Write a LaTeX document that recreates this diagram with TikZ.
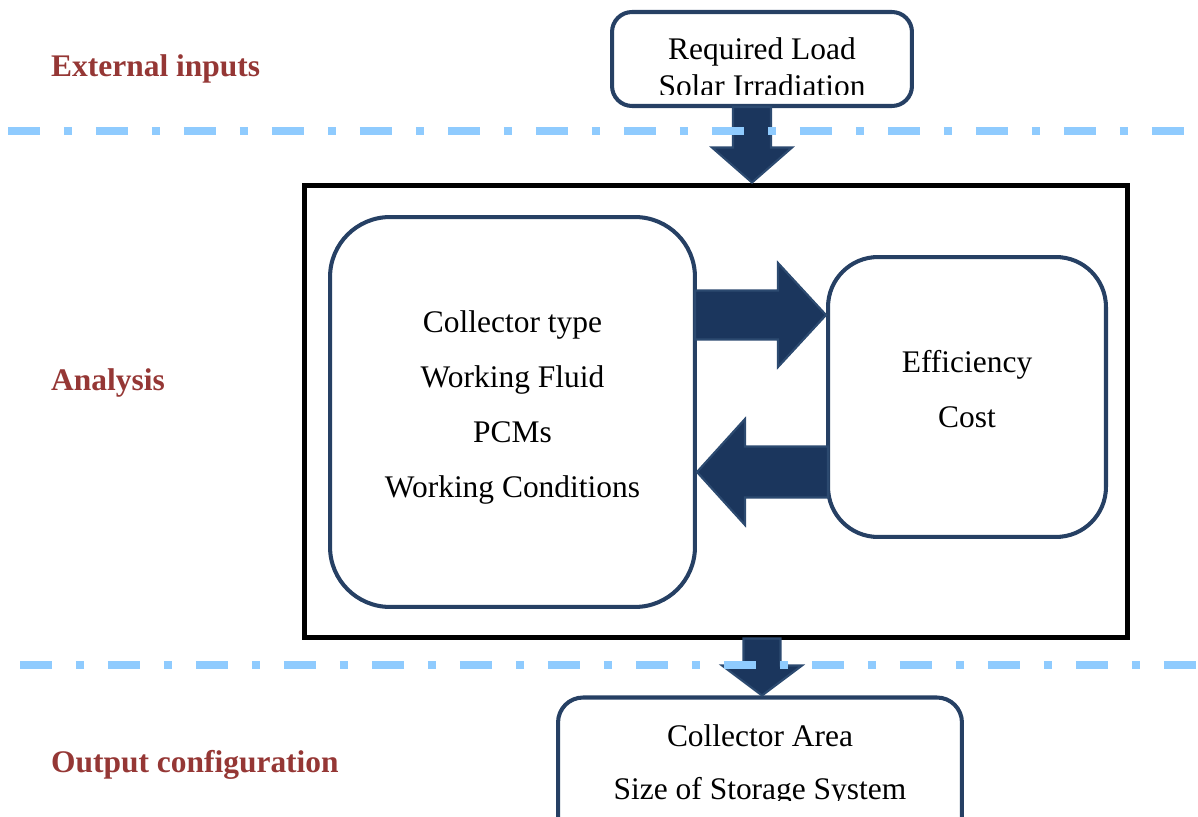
\documentclass[tikz,border=0pt]{standalone}
\usepackage{fontspec}
\setmainfont{Liberation Serif}
\usetikzlibrary{calc}
\definecolor{boxnavy}{HTML}{264064}
\definecolor{arrownavy}{HTML}{1B365D}
\definecolor{arrowedge}{HTML}{2C4A70}
\definecolor{bandblue}{HTML}{8FCBFE}
\definecolor{stagered}{HTML}{953735}

% block arrow: #1 tail, #2 tip, #3 half shaft, #4 half head, #5 head length (px)
\newcommand{\fatarrow}[5]{%
  \coordinate (fa-t) at (#1);
  \coordinate (fa-h) at ($(#2)!#5*0.02cm!(#1)$);
  \draw[bigarrow] ($(fa-t)!#3*0.02cm!90:(#2)$) -- ($(fa-h)!#3*0.02cm!90:(#2)$)
    -- ($(fa-h)!#4*0.02cm!90:(#2)$) -- (#2) -- ($(fa-h)!#4*0.02cm!-90:(#2)$)
    -- ($(fa-h)!#3*0.02cm!-90:(#2)$) -- ($(fa-t)!#3*0.02cm!-90:(#2)$) -- cycle;}

\begin{document}
\begin{tikzpicture}[x=0.02cm,y=-0.02cm,
  txt/.style={align=center,font=\fontsize{17.9}{31.3}\selectfont},
  stage/.style={anchor=west,text=stagered,font=\fontsize{17.9}{20}\selectfont\bfseries},
  roundbox/.style={draw=boxnavy,line width=2.3pt,fill=white,inner sep=0pt},
  bigarrow/.style={fill=arrownavy,draw=arrowedge,line width=1.2pt,line join=miter},
  band/.style={bandblue,line width=4.5pt,dash pattern=on 0.64cm off 0.48cm on 0.16cm off 0.48cm}]
  \path[use as bounding box,clip] (0,0) rectangle (1198,817);

  % stage labels
  \node[stage] (ext) at (45,69) {External inputs};
  \node[stage] (ana) at (45,383) {Analysis};
  \node[stage] (outl) at (45,765) {Output configuration};

  % inputs
  \node[roundbox,minimum width=6cm,minimum height=1.88cm,rounded corners=0.4cm] (load) at (762,59) {};
  \begin{scope}
    \clip (load.north west) rectangle ($(load.south east)+(0,-14)$);
    \node[txt,font=\fontsize{17.9}{21}\selectfont] (loadtxt) at ($(load.center)+(0,8)$) {Required Load\\Solar Irradiation};
  \end{scope}

  % analysis block
  \node[draw=black,line width=2.85pt,minimum width=16.48cm,minimum height=9.06cm] (frame) at (716,411.5) {};
  \node[roundbox,minimum width=7.3cm,minimum height=7.8cm,rounded corners=1.2cm] (colbox) at (512.5,412) {};
  \node[txt] (coltxt) at ($(colbox.center)+(0,-5)$) {Collector type\\Working Fluid\\PCMs\\Working Conditions};
  \node[roundbox,minimum width=5.56cm,minimum height=5.6cm,rounded corners=1cm] (perf) at (967,397) {};
  \node[txt] (perftxt) at ($(perf.center)+(0,-8)$) {Efficiency\\Cost};

  % output
  \node[roundbox,minimum width=8.08cm,minimum height=2.9cm,rounded corners=0.5cm] (out) at (760,770) {};
  \begin{scope}
    \clip (out.north west) rectangle (out.east |- 0,800);
    \node[txt,font=\fontsize{17.9}{30.6}\selectfont] (outtxt) at ($(out.north)+(0,70)$) {Collector Area\\Size of Storage System};
  \end{scope}

  % block arrows
  \coordinate (dtail) at ($(load.south)+(-10,-1)$);
  \fatarrow{dtail}{dtail |- frame.north}{19}{40}{35}
  \coordinate (rtail) at ($(colbox.east)+(-2,-97)$);
  \fatarrow{rtail}{rtail -| perf.west}{24.5}{52}{48}
  \coordinate (ltail) at ($(perf.west)+(2,75)$);
  \fatarrow{ltail}{ltail -| colbox.east}{25.5}{53}{48}
  \coordinate (otail) at ($(frame.south)+(46,-2)$);
  \fatarrow{otail}{otail |- out.north}{18.5}{40}{30}

  % stage separators
  \draw[band] (8,131) -- (1198,131);
  \draw[band] (20,665) -- (1198,665);
\end{tikzpicture}
\end{document}
